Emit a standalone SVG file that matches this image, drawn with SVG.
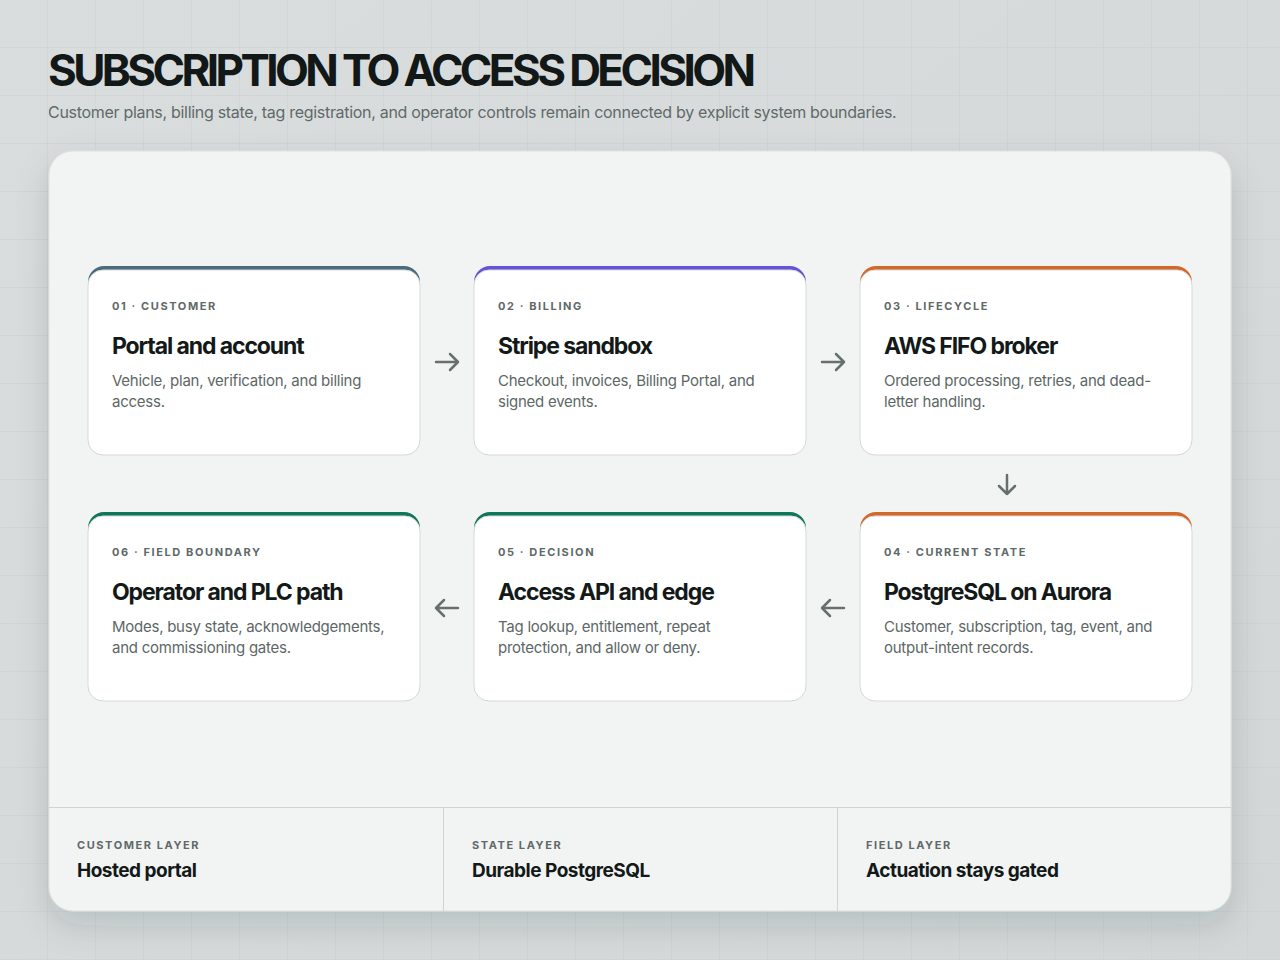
<svg xmlns="http://www.w3.org/2000/svg" width="1280" height="960" viewBox="0 0 1280 960">
<defs>
<linearGradient id="bg" x1="0" y1="0" x2="1" y2="1">
<stop offset="0" stop-color="#dadddd"/>
<stop offset="1" stop-color="#d3d7d7"/>
</linearGradient>
<pattern id="grid" width="48" height="48" patternUnits="userSpaceOnUse">
<path d="M48 0V48M0 48H48" fill="none" stroke="#c9cecf" stroke-width="1"/>
</pattern>
<filter id="sh" x="-10%" y="-10%" width="120%" height="130%">
<feDropShadow dx="0" dy="14" stdDeviation="16" flood-color="#1c2a2a" flood-opacity="0.14"/>
</filter>
<clipPath id="pclip"><rect x="49" y="151" width="1182" height="760" rx="24"/></clipPath>
</defs>
<style>
.f{font-family:Inter,"Noto Sans","Liberation Sans",sans-serif}
.title{font-size:44px;font-weight:700;fill:#121817;letter-spacing:-3.6px}
.sub{font-size:16px;fill:#5f6a69;letter-spacing:-0.3px}
.card{fill:#ffffff;stroke:#d5dad9;stroke-width:1}
.tag{font-size:11px;font-weight:700;fill:#5f6968;letter-spacing:1.6px}
.ct{font-size:23px;font-weight:700;fill:#131918;letter-spacing:-1.1px}
.cb{font-size:15px;fill:#5d6766;letter-spacing:-0.25px}
.arr{fill:none;stroke:#66706f;stroke-width:2.5;stroke-linecap:round;stroke-linejoin:round}
.fl{font-size:11px;font-weight:700;fill:#5f6968;letter-spacing:1.57px}
.fv{font-size:19px;font-weight:700;fill:#131918;letter-spacing:-0.5px}
.div{stroke:#cfd4d3;stroke-width:1}
</style>
<rect width="1280" height="960" fill="url(#bg)"/>
<rect width="1280" height="960" fill="url(#grid)"/>
<g id="header" class="f">
<text x="48" y="86" class="title">SUBSCRIPTION TO ACCESS DECISION</text>
<text x="48" y="118" class="sub">Customer plans, billing state, tag registration, and operator controls remain connected by explicit system boundaries.</text>
</g>
<g id="panel">
<rect x="49" y="151" width="1182" height="760" rx="24" fill="#f2f4f3" stroke="#dde1e0" filter="url(#sh)"/>
</g>
<g id="node-01" class="f">
<rect x="88" y="266" width="332" height="189" rx="16" fill="#4b6b7c"/>
<rect x="88" y="270" width="332" height="185" rx="15" class="card"/>
<text x="112" y="310" class="tag">01 · CUSTOMER</text>
<text x="112" y="354" class="ct">Portal and account</text>
<text x="112" y="386" class="cb">Vehicle, plan, verification, and billing</text>
<text x="112" y="407" class="cb">access.</text>
</g>
<g id="node-02" class="f">
<rect x="474" y="266" width="332" height="189" rx="16" fill="#6652d9"/>
<rect x="474" y="270" width="332" height="185" rx="15" class="card"/>
<text x="498" y="310" class="tag">02 · BILLING</text>
<text x="498" y="354" class="ct">Stripe sandbox</text>
<text x="498" y="386" class="cb">Checkout, invoices, Billing Portal, and</text>
<text x="498" y="407" class="cb">signed events.</text>
</g>
<g id="node-03" class="f">
<rect x="860" y="266" width="332" height="189" rx="16" fill="#d2692b"/>
<rect x="860" y="270" width="332" height="185" rx="15" class="card"/>
<text x="884" y="310" class="tag">03 · LIFECYCLE</text>
<text x="884" y="354" class="ct">AWS FIFO broker</text>
<text x="884" y="386" class="cb">Ordered processing, retries, and dead-</text>
<text x="884" y="407" class="cb">letter handling.</text>
</g>
<g id="node-04" class="f">
<rect x="860" y="512" width="332" height="189" rx="16" fill="#d2692b"/>
<rect x="860" y="516" width="332" height="185" rx="15" class="card"/>
<text x="884" y="556" class="tag">04 · CURRENT STATE</text>
<text x="884" y="600" class="ct">PostgreSQL on Aurora</text>
<text x="884" y="632" class="cb">Customer, subscription, tag, event, and</text>
<text x="884" y="653" class="cb">output-intent records.</text>
</g>
<g id="node-05" class="f">
<rect x="474" y="512" width="332" height="189" rx="16" fill="#0f7657"/>
<rect x="474" y="516" width="332" height="185" rx="15" class="card"/>
<text x="498" y="556" class="tag">05 · DECISION</text>
<text x="498" y="600" class="ct">Access API and edge</text>
<text x="498" y="632" class="cb">Tag lookup, entitlement, repeat</text>
<text x="498" y="653" class="cb">protection, and allow or deny.</text>
</g>
<g id="node-06" class="f">
<rect x="88" y="512" width="332" height="189" rx="16" fill="#0f7657"/>
<rect x="88" y="516" width="332" height="185" rx="15" class="card"/>
<text x="112" y="556" class="tag">06 · FIELD BOUNDARY</text>
<text x="112" y="600" class="ct">Operator and PLC path</text>
<text x="112" y="632" class="cb">Modes, busy state, acknowledgements,</text>
<text x="112" y="653" class="cb">and commissioning gates.</text>
</g>
<g id="connectors" class="arr">
<path d="M436 362H458M450 354L458 362L450 370"/>
<path d="M822 362H844M836 354L844 362L836 370"/>
<path d="M1007 475V494M999 486L1007 494L1015 486"/>
<path d="M844 608H822M830 600L822 608L830 616"/>
<path d="M458 608H436M444 600L436 608L444 616"/>
</g>
<g id="footer" class="f">
<g clip-path="url(#pclip)">
<line x1="49" y1="807.5" x2="1231" y2="807.5" class="div"/>
<line x1="443.5" y1="808" x2="443.5" y2="911" class="div"/>
<line x1="837.5" y1="808" x2="837.5" y2="911" class="div"/>
</g>
<text x="77" y="849" class="fl">CUSTOMER LAYER</text>
<text x="77" y="877" class="fv">Hosted portal</text>
<text x="472" y="849" class="fl">STATE LAYER</text>
<text x="472" y="877" class="fv">Durable PostgreSQL</text>
<text x="866" y="849" class="fl">FIELD LAYER</text>
<text x="866" y="877" class="fv">Actuation stays gated</text>
</g>
</svg>
